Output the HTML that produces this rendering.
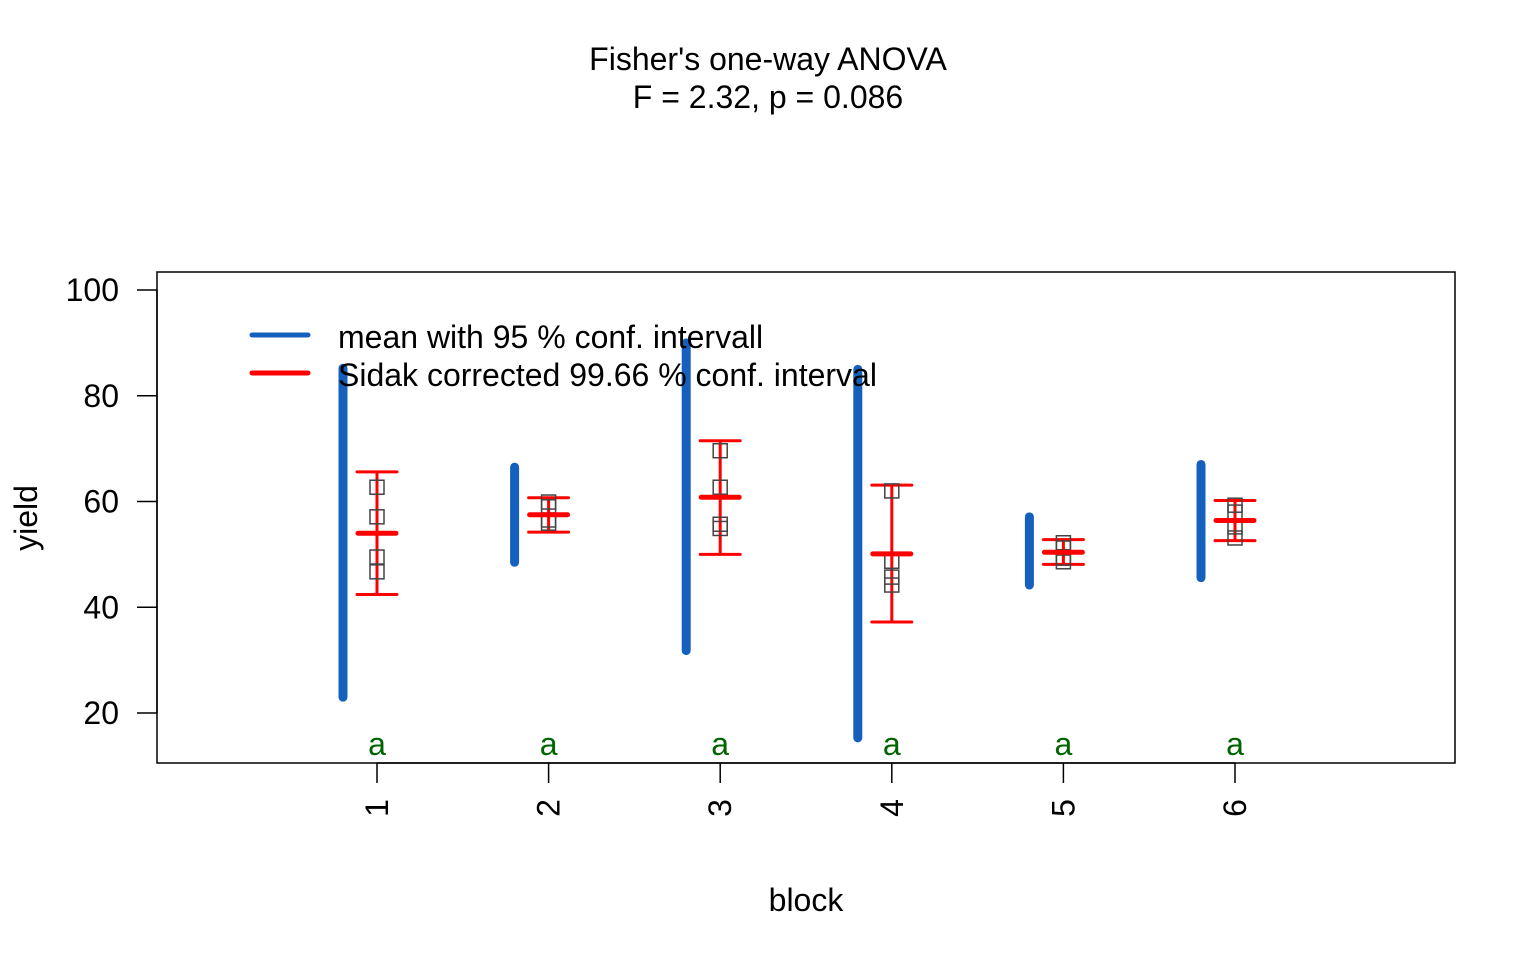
<!DOCTYPE html>
<html><head><meta charset="utf-8"><style>
html,body{margin:0;padding:0;background:#fff;}
svg{display:block;font-family:"Liberation Sans",Arial,sans-serif;}
</style></head><body>
<svg id="chart" width="1536" height="960" viewBox="0 0 1536 960" xmlns="http://www.w3.org/2000/svg">
<text x="768" y="70" text-anchor="middle" font-size="32">Fisher's one-way ANOVA</text>
<text x="768" y="108" text-anchor="middle" font-size="32">F = 2.32, p = 0.086</text>
<rect x="157" y="272" width="1298" height="491" fill="none" stroke="#000" stroke-width="1.5"/>
<g id="yaxis"></g>
<g id="xaxis"></g>
<text x="0" y="0" transform="translate(37,518) rotate(-90)" text-anchor="middle" font-size="32">yield</text>
<text x="806" y="911" text-anchor="middle" font-size="32">block</text>
<g id="marks"></g>
<g>
<line x1="252" y1="335" x2="308" y2="335" stroke="#1560BD" stroke-width="5" stroke-linecap="round"/>
<text x="338" y="348" font-size="32">mean with 95 % conf. intervall</text>
<line x1="252" y1="373" x2="308" y2="373" stroke="#FF0000" stroke-width="5" stroke-linecap="round"/>
<text x="338" y="386" font-size="32">Sidak corrected 99.66 % conf. interval</text>
</g>
</svg>
<script>
const categories = ["1","2","3","4","5","6"];
const means = [54.0, 57.5, 60.8, 50.1, 50.4, 56.4];
const ci95Low = [23.0, 48.5, 31.8, 15.3, 44.2, 45.6];
const ci95High = [85.2, 66.5, 90.0, 85.0, 57.1, 67.0];
const sidakLow = [42.4, 54.2, 50.0, 37.2, 48.1, 52.6];
const sidakHigh = [65.6, 60.7, 71.5, 63.1, 52.8, 60.2];
const points = [[62.7,57.1,49.5,46.7],[59.9,59.0,56.5,55.9],[69.6,62.7,55.7,54.9],[62.0,48.7,45.7,44.2],[52.2,51.2,49.3,48.6],[59.3,58.0,55.2,53.1]];
const groupLetters = ["a","a","a","a","a","a"];
const yTicks = [20,40,60,80,100];

const NS="http://www.w3.org/2000/svg";
function yS(v){return 290+(100-v)*(423/80);}
function xS(i){return 377+i*171.6;}
function mk(tag,attrs,parent){const e=document.createElementNS(NS,tag);for(const k in attrs)e.setAttribute(k,attrs[k]);parent.appendChild(e);return e;}
const ya=document.getElementById('yaxis'), xa=document.getElementById('xaxis'), m=document.getElementById('marks');
mk('line',{x1:157,x2:157,y1:yS(yTicks[0]),y2:yS(yTicks[yTicks.length-1]),stroke:'#000','stroke-width':1.5},ya);
yTicks.forEach(t=>{
  const l=mk('line',{x1:137,x2:157,y1:yS(t),y2:yS(t),stroke:'#000','stroke-width':1.5},ya);
  
  
  const tx=mk('text',{x:119,y:yS(t)+11,'text-anchor':'end','font-size':32},ya);
  tx.textContent=t;
  
  
});
mk('line',{x1:xS(0),x2:xS(categories.length-1),y1:763,y2:763,stroke:'#000','stroke-width':1.5},xa);
categories.forEach((c,i)=>{
  const x=xS(i);
  const l=mk('line',{x1:x,x2:x,y1:763,y2:783,stroke:'#000','stroke-width':1.5},xa);
  
  
  const tx=mk('text',{x:0,y:0,transform:`translate(${x+11},808) rotate(-90)`,'text-anchor':'middle','font-size':32},xa);
  tx.textContent=c;
  
  

  const b=mk('line',{x1:x-34,x2:x-34,y1:yS(ci95High[i]),y2:yS(ci95Low[i]),stroke:'#1560BD','stroke-width':9,'stroke-linecap':'round'},m);
  
  
  const g=mk('g',{},m);
  
  
  mk('line',{x1:x,x2:x,y1:yS(sidakHigh[i]),y2:yS(sidakLow[i]),stroke:'#FF0000','stroke-width':3},g);
  mk('line',{x1:x-20,x2:x+20,y1:yS(sidakHigh[i]),y2:yS(sidakHigh[i]),stroke:'#FF0000','stroke-width':3,'stroke-linecap':'round'},g);
  mk('line',{x1:x-20,x2:x+20,y1:yS(sidakLow[i]),y2:yS(sidakLow[i]),stroke:'#FF0000','stroke-width':3,'stroke-linecap':'round'},g);
  points[i].forEach(p=>{
    const r=mk('rect',{x:x-7,y:yS(p)-7,width:14,height:14,fill:'none',stroke:'#444','stroke-width':1.5},m);
    
    
  });
  const ml=mk('line',{x1:x-19,x2:x+19,y1:yS(means[i]),y2:yS(means[i]),stroke:'#FF0000','stroke-width':5,'stroke-linecap':'round'},m);
  
  
  const lt=mk('text',{x:x,y:755,'text-anchor':'middle','font-size':32,fill:'#006400'},m);
  lt.textContent=groupLetters[i];
  
  
});
</script>
</body></html>
